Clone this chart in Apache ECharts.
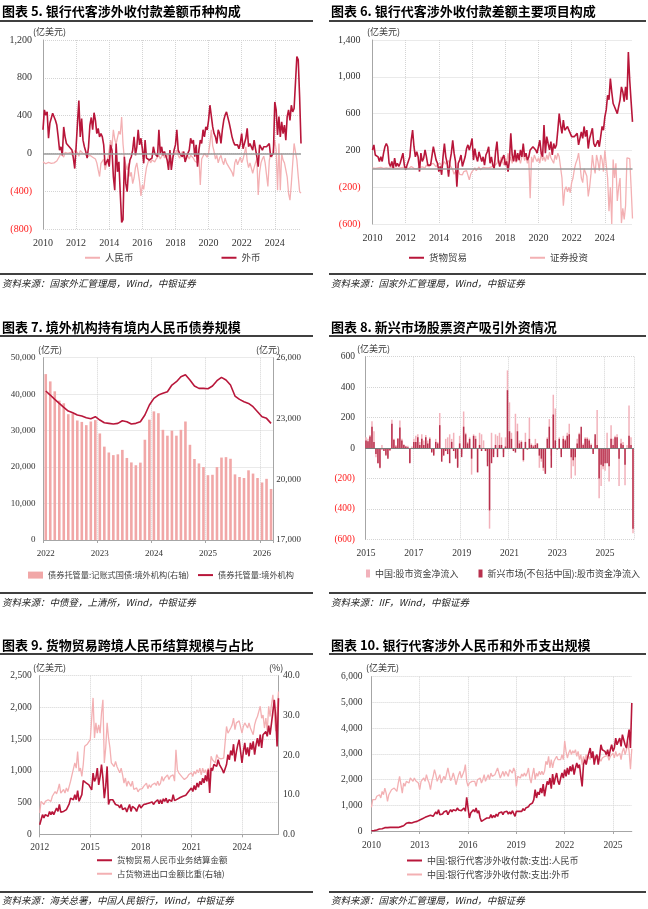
<!DOCTYPE html>
<html><head><meta charset="utf-8">
<script src="https://cdn.jsdelivr.net/npm/echarts@6/dist/echarts.min.js"></script>
<style>html,body{margin:0;padding:0;background:#fff}#c{width:648px;height:909px}</style>
</head><body><div id="c"></div>
<script>
// ---------- Panel 5: 银行代客涉外收付款差额币种构成 (2010-01 起, 月度, 亿美元)
const p5Start = [2010, 1];
const p5Rmb = [
-90,-100,-110,-100,-95,-110,-105,-120,-100,-90,-80,-60,
-30,0,20,-40,10,30,0,20,10,-20,0,30,
40,10,-30,30,35,0,-20,-10,-40,-35,-20,-30,
-40,-30,-60,-100,-175,-245,-105,-90,-60,-175,-120,-60,
35,140,70,250,150,100,110,235,200,385,100,-60,
-60,-175,-105,-245,-200,-320,-260,-150,-100,-195,-300,-450,
-335,-380,-250,-150,-100,-60,-100,-70,-50,-90,-60,-40,
-20,-60,-30,20,-50,-10,-40,0,20,-70,-30,-10,
0,35,-20,-50,-30,20,-40,-70,0,-30,-60,-20,
-20,-50,-80,-60,-100,-40,-335,-60,-30,0,20,-40,
0,105,250,80,20,-60,-20,-100,-50,-20,-80,-120,
-50,-100,-105,-150,-175,-200,-245,-100,-60,-120,-80,-40,
-100,-60,0,70,-80,-150,-100,-120,-210,-150,-100,-60,
-440,-200,-100,-60,-30,-100,-120,-350,-80,0,-40,-60,
140,35,-390,105,-390,0,-70,-100,-175,-250,-425,-495,
-320,-105,105,90,-70,-245,-405,-420];
const p5Fx = [
250,460,405,440,160,320,335,425,440,350,300,
175,35,70,-20,280,175,105,90,70,90,
35,-50,-160,70,320,560,175,370,140,70,20,
-50,70,300,380,250,430,350,210,265,175,
210,175,90,-125,-105,-60,
-140,90,35,-245,-390,
105,-195,-90,-425,-730,-700,-35,-320,-405,-175,
-70,-35,35,175,-20,70,250,90,160,50,
-105,140,-50,-35,-70,-70,-50,70,0,20,
-35,250,0,70,-20,20,20,-70,-175,35,
-175,-60,
35,90,250,35,0,-20,-35,20,-90,
-70,0,35,160,105,140,-35,90,-140,35,
140,105,250,175,280,250,350,510,530,280,
210,175,105,250,210,105,250,350,405,440,
460,320,250,175,125,90,105,90,50,105,
210,50,35,160,265,70,105,90,35,140,
50,-35,-140,90,105,35,70,50,70,50,
105,-35,-50,0,545,460,195,390,175,335,
210,300,140,390,460,350,510,440,475,475,
1025,990,600,105];
const p5YTicks = {min:-800, max:1200, step:400};

// ---------- Panel 6: 银行代客涉外收付款差额主要项目构成
const p6Start = [2010, 1];
const p6Goods = [
205,260,150,170,130,80,130,80,170,240,275,240,60,
25,80,5,115,25,60,25,60,80,170,40,-10,40,60,130,310,420,240,130,185,130,-30,170,
80,115,205,130,40,25,40,60,240,220,95,60,-30,25,-65,130,275,130,60,-85,80,170,310,170,
80,-195,60,95,150,25,25,130,220,260,205,260,330,95,220,130,80,185,130,80,130,40,
150,185,240,60,130,40,5,185,295,95,25,80,95,150,40,
80,-30,95,385,150,80,205,80,170,95,205,130,275,130,170,95,130,
205,220,240,220,205,170,150,310,170,130,475,170,350,275,205,295,150,275,220,260,
420,600,475,385,530,420,420,460,420,420,350,330,350,330,385,260,
260,400,330,460,350,420,220,330,350,440,275,240,260,310,240,350,460,420,565,640,
800,750,980,835,710,675,690,600,675,750,890,835,730,890,750,1270,960,730,510];
const p6Sec = [
10,15,5,20,10,0,15,10,5,20,10,15,
5,10,20,0,10,15,5,20,10,0,15,10,
20,10,0,15,25,10,5,20,0,10,15,25,
20,30,10,40,25,20,50,30,60,40,20,50,
30,60,20,40,80,50,70,90,40,20,-10,-60,
-30,-50,-20,-60,-40,-65,-30,-50,-20,-40,-120,-60,
-30,-10,10,-20,0,20,-10,5,15,-5,10,0,
10,0,20,5,30,15,60,100,50,130,80,40,
120,60,170,80,130,60,140,100,70,150,110,60,
130,170,90,140,60,100,-320,130,70,150,110,80,
120,60,170,90,130,80,150,100,180,120,90,60,
150,100,170,130,120,-100,-400,-230,-195,-250,-200,-260,
-150,-100,0,60,100,170,50,-100,-150,0,20,-80,
-300,-200,-50,150,30,-50,150,80,-20,150,100,-30,
200,50,-100,-460,-200,-600,100,-100,60,-350,-200,-100,
-590,-430,-550,-400,120,120,110,-200,-540];
const p6YTicks = {min:-600, max:1400, step:400};

// ---------- Panel 7: 境外机构持有境内人民币债券规模 (亿元)
const p7Start = [2022, 1];
const p7Treasury = [ // 右轴
25190,24830,24340,23880,23750,23210,23250,22900,22830,22670,22850,22920,
22260,21610,21320,21190,21230,21450,21050,20830,20690,20820,21950,22940,
23350,23260,22440,22150,22400,22150,22440,22850,21700,21000,20780,20600,
20200,20220,20600,21070,21090,21010,20240,20110,20060,20440,20280,20060,
19840,20020,19520];
const p7Total = [ // 左轴
40860,39760,38570,37470,36380,35370,34910,34280,34000,33540,33270,33820,
32900,32170,31990,31810,31990,32720,32450,31810,31990,32450,34280,37020,
38850,39760,40220,40670,42500,43420,44790,45330,43870,42230,41590,41590,
41500,42230,43690,44600,43870,42500,39490,38570,37930,37470,36560,35190,
33820,33360,31990];
const p7LeftTicks = {min:0, max:50000, step:10000};
const p7RightTicks = {min:17000, max:26000, step:3000};

// ---------- Panel 8: 新兴市场股票资产吸引外资情况 (亿美元)
const p8Start = [2015, 1];
const p8China = [
70,60,85,175,110,-60,-100,-135,20,-10,-40,-60,
-20,185,60,20,65,180,60,25,15,15,-95,10,
60,80,90,40,90,50,85,50,70,-20,-40,60,
40,230,-60,-30,60,70,90,60,100,-60,-120,80,
-40,240,100,40,70,-175,90,80,-160,100,90,50,
-20,-90,-530,100,-40,90,80,100,70,-30,70,510,
300,100,-10,225,160,50,50,-90,100,-10,200,30,
20,60,30,-130,-90,-150,-160,70,190,-50,350,260,
0,70,-40,80,60,100,160,-200,-120,-180,60,100,
90,30,70,70,60,30,-30,60,250,-330,-250,-140,
-150,100,-220,150,60,80,90,-250,60,40,-245,20,
280,70,-560];
const p8EM = [
50,45,75,140,40,-40,-100,-130,-10,-20,-50,-70,
-15,160,55,10,60,135,50,20,10,5,-100,0,
40,40,70,20,60,20,70,30,60,-30,-50,40,
30,150,-90,-50,-20,-40,-100,40,-20,-70,-130,30,
-60,140,90,30,60,-70,80,60,-160,20,-20,0,
-20,-120,-410,-100,-60,20,-60,20,20,-60,10,380,
110,60,-20,-30,110,30,40,-80,40,-10,60,20,
10,20,30,-50,-70,-130,-170,60,140,-130,220,50,
-10,60,-60,60,50,80,90,-60,-80,-60,30,90,
140,20,60,60,50,20,-40,90,20,-200,-110,-120,
-100,-100,-120,60,20,70,70,-70,30,20,-110,0,
80,20,-530];
const p8YTicks = {min:-600, max:600, step:200};

// ---------- Panel 9: 货物贸易跨境人民币结算规模与占比
const p9Start = [2012, 1];
const p9Settle = [
150,230,310,260,310,335,285,360,310,360,
310,335,415,360,470,350,370,360,370,390,415,480,570,600,545,625,545,690,520,
545,625,845,835,810,810,780,755,700,965,835,885,1045,780,910,1100,885,570,755,1070,
470,545,520,545,520,470,495,455,415,470,390,360,415,350,415,470,360,440,
425,405,360,425,470,415,390,470,440,480,455,495,470,510,470,505,520,545,480,
545,480,560,520,570,495,545,570,520,625,530,545,555,570,580,590,600,610,615,
635,675,700,730,675,770,700,810,740,835,780,885,810,930,835,1020,650,1045,1005,1100,
1125,1070,1175,1100,1070,1020,965,940,1100,1255,1175,1320,1245,1420,1150,1300,1410,1490,
1490,1125,1305,1440,1255,1370,1230,1440,1335,1465,1255,1410,1515,1385,1570,1360,1570,1595,
1620,1545,1715,1570,1750,1935,2120,1860,1385,2145];
const p9Share = [
5.4,8.3,8.7,7.5,8.3,7.9,8.7,9.2,8.3,9.6,
9.6,10.8,10.2,11.3,12.7,10.4,10.8,11.3,10.4,11.7,10.8,12.1,13.4,15.0,14.6,18.0,16.7,20.9,15.9,
16.7,14.6,17.6,22.2,22.6,22.8,23.0,23.9,24.3,34.4,24.3,28.1,25.5,27.6,25.5,30.6,33.9,18.0,21.8,28.1,
24.3,21.8,18.0,18.4,17.1,18.4,17.1,16.3,15.5,16.7,15.0,12.9,14.2,12.1,13.4,13.4,12.1,13.4,
11.3,10.8,11.7,10.7,11.3,11.7,11.5,12.1,11.7,12.9,11.5,12.5,11.8,12.5,12.1,12.9,12.3,13.4,12.3,
12.9,14.6,13.4,14.2,13.8,15.0,13.8,14.6,14.2,15.0,13.4,21.3,16.3,15.5,15.0,14.6,14.2,13.8,14.1,
14.4,15.0,15.2,15.5,14.6,15.9,15.2,16.3,15.5,16.7,15.0,16.7,15.5,16.3,15.0,16.7,14.6,19.7,18.8,18.4,
18.0,20.1,19.3,19.5,19.0,19.4,19.2,19.3,27.2,25.5,26.0,26.8,27.6,29.3,26.4,28.1,28.5,28.6,
28.6,25.5,27.2,28.1,28.1,26.8,28.1,26.8,27.2,25.1,27.6,28.9,29.7,31.0,32.3,29.3,30.1,26.8,
29.3,26.0,32.3,29.7,32.7,35.2,30.2,26.0,31.0,36.0];
const p9LeftTicks = {min:0, max:2500, step:500};
const p9RightTicks = {min:0, max:40, step:10};

// ---------- Panel 10: 银行代客涉外人民币和外币支出规模
const p10Start = [2010, 1];
const p10Rmb = [
10,0,15,25,40,50,80,105,90,115,130,140,130,170,140,155,140,115,140,170,140,195,170,235,205,260,300,270,325,350,
310,375,350,390,375,400,430,400,480,430,530,480,570,530,610,635,570,660,740,660,830,635,700,660,740,685,790,635,740,830,
740,830,895,790,895,815,765,790,830,895,765,1310,895,505,700,635,830,740,895,700,790,505,375,350,440,375,505,440,505,635,
505,610,530,660,570,700,635,740,635,740,700,765,660,740,660,790,740,570,765,725,765,830,765,870,790,895,855,945,1025,960,
1090,1220,1605,1285,1515,1410,1670,1475,1825,1350,1670,1930,1800,2060,1645,2215,1800,2060,2255,1930,1800,2060,2255,2060,2385,2125,2450,2190,2515,2320,
2580,2190,2450,2645,2450,2580,2125,1735,2580,2775,2580,2840,2905,3225,2840,3095,2580,2865,2970,2580,2905,3355,3160,3225,3095,2970,3160,2905,3160,3355,
3095,3225,3615,3355,3485,3615,3290,3745,3550,3355,3225,3615,3940,3225,4975];
const p10Fx = [
920,1220,1285,1220,1350,1285,1410,1285,1540,1410,1670,1475,1155,1410,1475,1605,1540,1670,1735,1540,1865,2125,1800,1475,1865,1735,1930,1955,1865,2060,
1995,1930,2060,1955,1995,1865,1605,1930,1865,2060,1930,2190,1995,1865,1605,1930,2125,2385,2190,1930,2060,2190,1865,1930,2125,1995,2060,2450,2190,1955,
2060,2255,2060,1800,1995,2190,2320,2060,1995,2320,2580,1930,1735,1865,1800,1930,1865,1930,1735,1995,1930,2060,1865,1995,2190,1930,2060,2190,1995,2255,
2125,2060,2190,2320,2450,2255,2060,2190,2320,2125,2320,2255,2125,2385,2320,2255,2450,2320,1735,2125,2190,2060,2215,2125,2255,2125,2255,2450,2060,1865,
2190,2450,1995,2255,2125,2320,2190,2320,2190,2320,2710,2580,2905,2450,2775,2450,2710,2645,2905,2775,2710,2775,2970,2775,3510,3095,2840,3030,3160,2970,
3120,3030,3160,2905,3095,2775,2970,2580,2905,2710,2970,2775,2905,2775,3030,2840,2940,2775,2840,2905,2815,2710,2840,2775,2905,2840,2940,2750,2905,2840,
3030,2840,3095,2905,2840,3030,2775,3095,3225,2970,3160,3485,3095,2400,3200];
const p10YTicks = {min:0, max:6000, step:1000};

// ---------- rendering ----------
const DARK = '#b8163a', LIGHT = '#f3b0b3';
const FN = '"Liberation Serif","Times New Roman",serif';
const FC = '"Noto Sans CJK SC","Noto Sans",sans-serif';
const GRIDC = '#d4d4d4', AXC = '#a6a6a6', TXT = '#333';

function months(start, n){
  const out=[]; for(let i=0;i<n;i++){const t=start[1]-1+i; out.push((start[0]+Math.floor(t/12))+'-'+String(t%12+1).padStart(2,'0'));} return out;
}
function fmt(v){const s=Math.abs(v).toLocaleString('en-US'); return v<0?'{n|('+s+')}':s;}

function xCat(gi, cats, every, o){
  const f = (i)=> i % every === 0;
  return {type:'category', gridIndex:gi, data:cats, boundaryGap:!!o.bg,
    axisLine:{show:!!o.line, onZero:false, lineStyle:{color:AXC}},
    axisTick:{show:!!o.line, interval:f, length:3, lineStyle:{color:AXC}},
    axisLabel:{interval:f, formatter:(v)=>v.slice(0,4), margin:o.margin, fontFamily:FN, fontSize:o.fs, color:TXT},
    splitLine:{show:true, interval:f, lineStyle:{color:GRIDC, type:'dotted'}}};
}
function yVal(gi, t, o){
  return {type:'value', gridIndex:gi, min:t.min, max:t.max, interval:t.step, position:o.pos||'left',
    axisLine:{show:true, lineStyle:{color:AXC}}, axisTick:{show:false},
    axisLabel:{formatter:o.f||fmt, margin:o.margin, fontFamily:FN, fontSize:o.fs, color:TXT,
      rich:{n:{color:'#ff1a1a', fontFamily:FN, fontSize:o.fs}}},
    splitLine:{show:o.split!==false, lineStyle:{color:GRIDC, type:'dotted'}}};
}
const zeroLine = {silent:true, symbol:['none','none'], label:{show:false}, animation:false,
  lineStyle:{color:'#9a9a9a', type:'solid', width:1.5}, data:[{yAxis:0}]};
function line(name, xi, yi, data, color, w, extra){
  return Object.assign({name, type:'line', xAxisIndex:xi, yAxisIndex:yi, data, symbol:'none', showSymbol:false,
    lineStyle:{color, width:w}, itemStyle:{color}, emphasis:{disabled:true}}, extra||{});
}
function G(l,t,r,b){return {left:l, top:t, width:r-l, height:b-t, containLabel:false, outerBoundsMode:'none'};}

const c5 = months(p5Start, p5Fx.length), c6 = months(p6Start, p6Goods.length),
      c7 = months(p7Start, p7Total.length), c8 = months(p8Start, p8EM.length),
      c9 = months(p9Start, p9Settle.length), c10 = months(p10Start, p10Rmb.length);

const legText = (fs)=>({fontFamily:FC, fontSize:fs, color:'#404040'});
const legBase = {icon:'rect', itemWidth:15, itemHeight:2, padding:0, selectedMode:false};

function T(text,x,y,font,fill){return {type:'text', silent:true, style:{text, x, y, font, fill:fill||'#000', textAlign:'left', textVerticalAlign:'middle', verticalAlign:'middle'}};}
function L(x1,y1,x2,y2,w){return {type:'line', silent:true, shape:{x1,y1,x2,y2}, style:{stroke:'#000', lineWidth:w||1.5}};}

const titleFont = 'bold 13px "Noto Sans CJK SC"';
const srcFont = 'italic 9.5px "Noto Sans CJK SC"';
const unitFont = '9px "Noto Sans CJK SC"';

const graphic = [
  T('图表 5. 银行代客涉外收付款差额币种构成', 2, 11, titleFont),
  T('图表 6. 银行代客涉外收付款差额主要项目构成', 331, 11, titleFont),
  T('图表 7. 境外机构持有境内人民币债券规模', 2, 327, titleFont),
  T('图表 8. 新兴市场股票资产吸引外资情况', 331, 327, titleFont),
  T('图表 9. 货物贸易跨境人民币结算规模与占比', 2, 645, titleFont),
  T('图表 10. 银行代客涉外人民币和外币支出规模', 331, 645, titleFont),
  L(0,21,313,21), L(329,21,646,21), L(0,336,313,336), L(329,336,646,336), L(0,654,313,654), L(329,654,646,654),
  L(0,274,313,274), L(329,274,646,274), L(0,593,313,593), L(329,593,646,593), L(0,892,313,892), L(329,892,646,892),
  T('资料来源：国家外汇管理局，Wind，中银证券', 2, 283, srcFont, '#222'),
  T('资料来源：国家外汇管理局，Wind，中银证券', 331, 283, srcFont, '#222'),
  T('资料来源：中债登，上清所，Wind，中银证券', 2, 602, srcFont, '#222'),
  T('资料来源：IIF，Wind，中银证券', 331, 602, srcFont, '#222'),
  T('资料来源：海关总署，中国人民银行，Wind，中银证券', 2, 900, srcFont, '#222'),
  T('资料来源：国家外汇管理局，Wind，中银证券', 331, 900, srcFont, '#222'),
  T('(亿美元)', 33, 32, unitFont, TXT), T('(亿美元)', 367, 32, unitFont, TXT),
  T('(亿元)', 38, 350, unitFont, TXT), T('(亿元)', 256, 350, unitFont, TXT),
  T('(亿美元)', 357, 349, unitFont, TXT),
  T('(亿美元)', 33, 668, unitFont, TXT), T('(%)', 269, 668, unitFont, TXT),
  T('(亿美元)', 366, 668, unitFont, TXT)
];

const option = {
  animation:false, backgroundColor:'#fff',
  grid:[G(43,40,301,229), G(372.5,40,632.5,224), G(43.5,357.7,273.3,540), G(365,356.7,634,539.3), G(39.7,675.7,278.5,834.3), G(371.4,676.7,631.8,831)],
  xAxis:[
    xCat(0,c5,24,{margin:9, fs:10}),
    xCat(1,c6,24,{margin:9, fs:10}),
    xCat(2,c7,12,{bg:true, line:true, margin:9, fs:9}),
    xCat(3,c8,24,{bg:true, margin:9, fs:9.5}),
    xCat(4,c9,36,{line:true, margin:8, fs:9.5}),
    xCat(5,c10,36,{line:true, margin:9, fs:9.5})
  ],
  yAxis:[
    yVal(0,p5YTicks,{margin:11, fs:10}),
    yVal(1,p6YTicks,{margin:12, fs:10}),
    yVal(2,p7LeftTicks,{margin:8, fs:9}),
    yVal(2,p7RightTicks,{pos:'right', margin:3, fs:9, split:false}),
    yVal(3,p8YTicks,{margin:10, fs:9.5}),
    yVal(4,p9LeftTicks,{margin:8, fs:9.5}),
    yVal(4,p9RightTicks,{pos:'right', margin:4.5, fs:9.5, split:false, f:(v)=>v.toFixed(1)}),
    yVal(5,p10YTicks,{margin:9, fs:9.5})
  ],
  legend:[
    Object.assign({}, legBase, {data:['人民币','外币'], left:85, top:253, itemGap:88, textStyle:legText(9.5)}),
    Object.assign({}, legBase, {data:['货物贸易','证券投资'], left:409, top:253, itemGap:63, textStyle:legText(9.5)}),
    Object.assign({}, legBase, {data:['债券托管量:记账式国债:境外机构(右轴)'], left:28, top:571, itemHeight:7, textStyle:legText(8.2)}),
    Object.assign({}, legBase, {data:['债券托管量:境外机构'], left:198, top:571, textStyle:legText(8.2)}),
    Object.assign({}, legBase, {data:['中国:股市资金净流入','新兴市场(不包括中国):股市资金净流入'], left:366, top:569, itemGap:20, itemWidth:4, itemHeight:8, textStyle:legText(9)}),
    Object.assign({}, legBase, {data:['货物贸易人民币业务结算金额','占货物进出口金额比重(右轴)'], orient:'vertical', left:97, top:856, itemGap:5, textStyle:legText(8.5)}),
    Object.assign({}, legBase, {data:['中国:银行代客涉外收付款:支出:人民币','中国:银行代客涉外收付款:支出:外币'], orient:'vertical', left:407, top:856, itemGap:5, textStyle:legText(9)})
  ],
  series:[
    line('人民币',0,0,p5Rmb,LIGHT,1.3,{markLine:zeroLine}),
    line('外币',0,0,p5Fx,DARK,1.6),
    line('证券投资',1,1,p6Sec,LIGHT,1.3,{markLine:zeroLine}),
    line('货物贸易',1,1,p6Goods,DARK,1.6),
    {name:'债券托管量:记账式国债:境外机构(右轴)', type:'bar', xAxisIndex:2, yAxisIndex:3, data:p7Treasury, barWidth:2.6, itemStyle:{color:'#f1a7a7'}},
    line('债券托管量:境外机构',2,2,p7Total,DARK,1.6),
    {name:'中国:股市资金净流入', type:'bar', xAxisIndex:3, yAxisIndex:4, data:p8China, barWidth:1.5, barGap:'-100%', itemStyle:{color:'#f2b2bb'}, markLine:Object.assign({}, zeroLine, {lineStyle:{color:'#7a7a7a', width:1.2, type:'solid'}})},
    {name:'新兴市场(不包括中国):股市资金净流入', type:'bar', xAxisIndex:3, yAxisIndex:4, data:p8EM, barWidth:1.5, barGap:'-100%', itemStyle:{color:'#b8304d'}},
    line('占货物进出口金额比重(右轴)',4,6,p9Share,LIGHT,1.3),
    line('货物贸易人民币业务结算金额',4,5,p9Settle,DARK,1.6),
    line('中国:银行代客涉外收付款:支出:外币',5,7,p10Fx,LIGHT,1.3),
    line('中国:银行代客涉外收付款:支出:人民币',5,7,p10Rmb,DARK,1.6)
  ],
  graphic
};
const chart = echarts.init(document.getElementById('c'), null, {renderer:'canvas', width:648, height:909});
chart.setOption(option);
</script></body></html>
